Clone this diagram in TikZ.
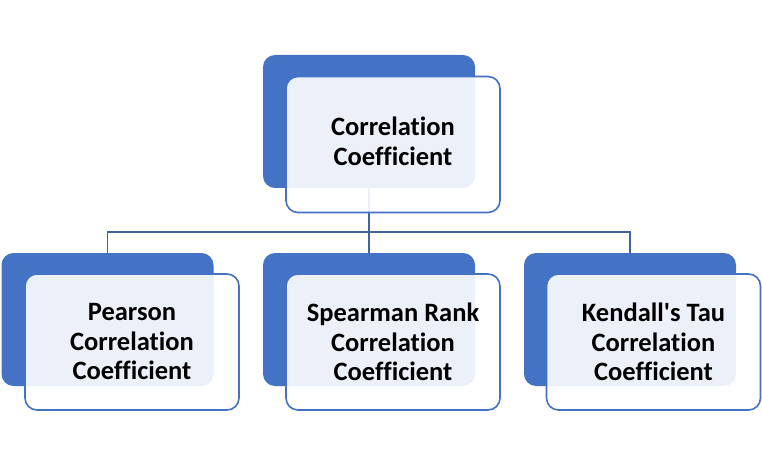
\documentclass[tikz,border=0pt]{standalone}
\usepackage{fontspec}
\setmainfont{Carlito}[Ligatures={NoCommon,TeXOff}]
\definecolor{accent}{HTML}{4472C4}
\definecolor{linkc}{HTML}{44639C}
\begin{document}
\begin{tikzpicture}[x=1pt,y=1pt,
  backbox/.style={rectangle, rounded corners=12pt, fill=accent, inner sep=0pt,
    minimum width=212pt, minimum height=133pt},
  frontbox/.style={rectangle, rounded corners=12pt, draw=accent, line width=1.6pt,
    fill=white, fill opacity=0.9, text opacity=1, inner sep=0pt,
    minimum width=214pt, minimum height=136pt, align=center,
    font=\fontsize{26.5pt}{29.5pt}\selectfont\bfseries},
  conn/.style={draw=linkc, line width=1.8pt}]
\useasboundingbox (0,0) rectangle (762,464);
% back boxes
\node[backbox] (tback) at (369,342.5) {};
\node[backbox] (pback) at (107.5,144.5) {};
\node[backbox] (sback) at (369,144.5) {};
\node[backbox] (kback) at (630,144.5) {};
% connectors
\coordinate (bus) at (369,232);
\draw[conn] (tback.south) -- (bus);
\draw[conn] (pback.north) |- (bus) -| (kback.north);
\draw[conn] (bus) -- (sback.north);
% front boxes
\node[frontbox] (tfront) at (393,319.5) {\raisebox{2pt}{\begin{tabular}{@{}c@{}}Correlation\\Coefficient\end{tabular}}};
\node[frontbox] (pfront) at (132,122) {Pearson\\Correlation\\Coefficient};
\node[frontbox] (sfront) at (393,122) {Spearman Rank\\Correlation\\Coefficient};
\node[frontbox] (kfront) at (653.5,122) {Kendall's Tau\\Correlation\\Coefficient};
\end{tikzpicture}
\end{document}
